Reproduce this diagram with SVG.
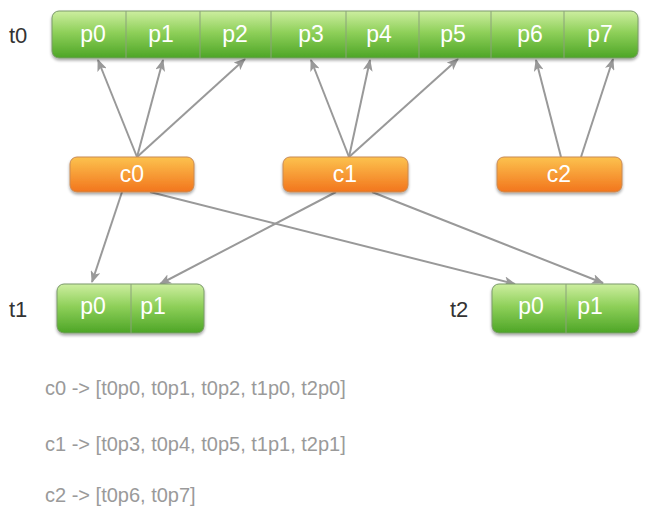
<svg xmlns="http://www.w3.org/2000/svg" width="654" height="513" viewBox="0 0 654 513">
<defs>
<linearGradient id="g" x1="0" y1="0" x2="0" y2="1">
<stop offset="0" stop-color="#cdeea0"/>
<stop offset="0.45" stop-color="#8fd05a"/>
<stop offset="1" stop-color="#4da526"/>
</linearGradient>
<linearGradient id="o" x1="0" y1="0" x2="0" y2="1">
<stop offset="0" stop-color="#fcc24e"/>
<stop offset="1" stop-color="#f2751d"/>
</linearGradient>
<filter id="sh" x="-10%" y="-20%" width="120%" height="160%">
<feGaussianBlur in="SourceAlpha" stdDeviation="1.5"/>
<feOffset dy="2" result="b"/>
<feComponentTransfer><feFuncA type="linear" slope="0.35"/></feComponentTransfer>
<feMerge><feMergeNode/><feMergeNode in="SourceGraphic"/></feMerge>
</filter>
<marker id="ah" viewBox="0 0 12 10" refX="11" refY="5" markerWidth="12" markerHeight="10" markerUnits="userSpaceOnUse" orient="auto">
<path d="M0,0 L12,5 L0,10 L3,5 Z" fill="#999"/>
</marker>
</defs>
<style>
.gbox{fill:url(#g);stroke:#7a9a6a;stroke-width:1;filter:url(#sh)}
.obox{fill:url(#o);stroke:#c98a55;stroke-width:1;filter:url(#sh)}
.div{stroke:#8aa27a;stroke-width:1}
.lbl{font-family:"Liberation Sans",Arial,sans-serif;font-size:23px;fill:#ffffff;text-anchor:middle}
.tl{font-family:"Liberation Sans",Arial,sans-serif;font-size:22px;fill:#333333}
.lst{font-family:"Liberation Sans",Arial,sans-serif;font-size:20px;fill:#9a9a9a}
.ln{stroke:#999;stroke-width:2;fill:none;marker-end:url(#ah)}
</style>
<g id="connectors">
<line class="ln" x1="137" y1="157" x2="98" y2="60"/>
<line class="ln" x1="137" y1="157" x2="163" y2="60"/>
<line class="ln" x1="137" y1="157" x2="245" y2="59"/>
<line class="ln" x1="349" y1="157" x2="311" y2="60"/>
<line class="ln" x1="349" y1="157" x2="370" y2="60"/>
<line class="ln" x1="349" y1="157" x2="458" y2="59"/>
<line class="ln" x1="561" y1="157" x2="536" y2="60"/>
<line class="ln" x1="581" y1="157" x2="613" y2="59"/>
<line class="ln" x1="122" y1="192" x2="92" y2="282"/>
<line class="ln" x1="150" y1="192" x2="515" y2="284"/>
<line class="ln" x1="336" y1="192" x2="160" y2="284"/>
<line class="ln" x1="372" y1="192" x2="603" y2="283"/>
</g>
<g id="t0">
<text class="tl" x="9" y="43">t0</text>
<rect class="gbox" x="52" y="11" width="586" height="47" rx="7"/>
<line class="div" x1="126" y1="11" x2="126" y2="58"/>
<line class="div" x1="200" y1="11" x2="200" y2="58"/>
<line class="div" x1="271" y1="11" x2="271" y2="58"/>
<line class="div" x1="346" y1="11" x2="346" y2="58"/>
<line class="div" x1="419" y1="11" x2="419" y2="58"/>
<line class="div" x1="491" y1="11" x2="491" y2="58"/>
<line class="div" x1="564" y1="11" x2="564" y2="58"/>
<text class="lbl" x="93" y="42">p0</text>
<text class="lbl" x="161" y="42">p1</text>
<text class="lbl" x="235" y="42">p2</text>
<text class="lbl" x="311" y="42">p3</text>
<text class="lbl" x="379" y="42">p4</text>
<text class="lbl" x="453" y="42">p5</text>
<text class="lbl" x="530" y="42">p6</text>
<text class="lbl" x="600" y="42">p7</text>
</g>
<g id="c0">
<rect class="obox" x="70" y="157" width="124" height="35" rx="7"/>
<text class="lbl" x="132" y="182">c0</text>
</g>
<g id="c1">
<rect class="obox" x="283" y="157" width="125" height="35" rx="7"/>
<text class="lbl" x="345" y="182">c1</text>
</g>
<g id="c2">
<rect class="obox" x="497" y="157" width="125" height="35" rx="7"/>
<text class="lbl" x="559" y="182">c2</text>
</g>
<g id="t1">
<text class="tl" x="9" y="317">t1</text>
<rect class="gbox" x="57" y="284" width="147" height="49" rx="7"/>
<line class="div" x1="131" y1="284" x2="131" y2="333"/>
<text class="lbl" x="93" y="314">p0</text>
<text class="lbl" x="153" y="314">p1</text>
</g>
<g id="t2">
<text class="tl" x="450" y="317">t2</text>
<rect class="gbox" x="492" y="284" width="147" height="49" rx="7"/>
<line class="div" x1="566" y1="284" x2="566" y2="333"/>
<text class="lbl" x="531" y="314">p0</text>
<text class="lbl" x="590" y="314">p1</text>
</g>
<g id="list">
<text class="lst" x="45" y="395">c0 -&gt; [t0p0, t0p1, t0p2, t1p0, t2p0]</text>
<text class="lst" x="45" y="451">c1 -&gt; [t0p3, t0p4, t0p5, t1p1, t2p1]</text>
<text class="lst" x="45" y="502">c2 -&gt; [t0p6, t0p7]</text>
</g>
</svg>
